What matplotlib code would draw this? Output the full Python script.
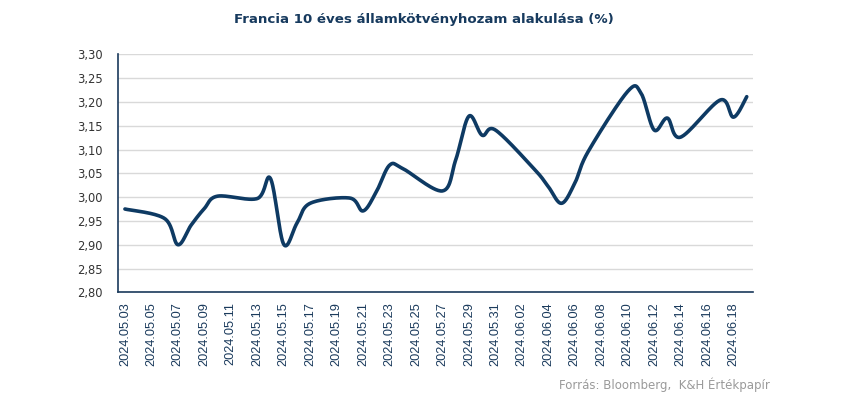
import numpy as np
import matplotlib
matplotlib.use("Agg")
import matplotlib.pyplot as plt
import datetime as dt

# ---- data ----
dates = ["2024.05.03", "2024.05.06", "2024.05.07", "2024.05.08", "2024.05.09", "2024.05.10",
         "2024.05.13", "2024.05.14", "2024.05.15", "2024.05.16", "2024.05.17",
         "2024.05.20", "2024.05.21", "2024.05.22", "2024.05.23", "2024.05.24",
         "2024.05.27", "2024.05.28", "2024.05.29", "2024.05.30", "2024.05.31",
         "2024.06.03", "2024.06.04", "2024.06.05", "2024.06.06", "2024.06.07",
         "2024.06.10", "2024.06.11", "2024.06.12", "2024.06.13", "2024.06.14",
         "2024.06.17", "2024.06.18", "2024.06.19"]
yields = [2.975, 2.955, 2.900, 2.941, 2.976, 3.002,
          2.997, 3.039, 2.901, 2.945, 2.987,
          2.998, 2.971, 3.011, 3.067, 3.060,
          3.013, 3.078, 3.170, 3.130, 3.141,
          3.057, 3.022, 2.987, 3.029, 3.095,
          3.222, 3.219, 3.141, 3.166, 3.126,
          3.204, 3.168, 3.211]
tick_labels = ["2024.05.03", "2024.05.05", "2024.05.07", "2024.05.09", "2024.05.11",
               "2024.05.13", "2024.05.15", "2024.05.17", "2024.05.19", "2024.05.21",
               "2024.05.23", "2024.05.25", "2024.05.27", "2024.05.29", "2024.05.31",
               "2024.06.02", "2024.06.04", "2024.06.06", "2024.06.08", "2024.06.10",
               "2024.06.12", "2024.06.14", "2024.06.16", "2024.06.18"]
y_ticks = [2.80, 2.85, 2.90, 2.95, 3.00, 3.05, 3.10, 3.15, 3.20, 3.25, 3.30]

start = dt.datetime.strptime(dates[0], "%Y.%m.%d")
def day_index(s):
    return (dt.datetime.strptime(s, "%Y.%m.%d") - start).days

x = np.array([day_index(d) for d in dates], dtype=float)
y = np.array(yields)

# Excel-like smoothing (Catmull-Rom bezier) for rendering only
def smooth(xs, ys, n=30):
    px, py = [], []
    N = len(xs)
    for i in range(N - 1):
        p0 = np.array([xs[max(i - 1, 0)], ys[max(i - 1, 0)]])
        p1 = np.array([xs[i], ys[i]])
        p2 = np.array([xs[i + 1], ys[i + 1]])
        p3 = np.array([xs[min(i + 2, N - 1)], ys[min(i + 2, N - 1)]])
        c1 = p1 + (p2 - p0) / 6.0
        c2 = p2 - (p3 - p1) / 6.0
        t = np.linspace(0, 1, n, endpoint=(i == N - 2))[:, None]
        pts = ((1 - t) ** 3) * p1 + 3 * ((1 - t) ** 2) * t * c1 + 3 * (1 - t) * t ** 2 * c2 + t ** 3 * p2
        px.extend(pts[:, 0]); py.extend(pts[:, 1])
    return np.array(px), np.array(py)

sx, sy = smooth(x, y)

navy = "#0e3a63"
fig = plt.figure(figsize=(8.5, 3.97), dpi=100)
ax = fig.add_axes([0.1392, 0.2637, 0.7471, 0.5995])
ax.plot(sx, sy, color=navy, lw=2.6, solid_capstyle="round", solid_joinstyle="round", zorder=3)

ax.set_xlim(-0.5, 47.5)
ax.set_ylim(2.80, 3.30)
ax.set_yticks(y_ticks)
ax.set_yticklabels([f"{v:.2f}".replace(".", ",") for v in y_ticks],
                   fontsize=8.3, color="#333333", family="DejaVu Sans")
ax.set_xticks([day_index(t) for t in tick_labels])
ax.set_xticklabels(tick_labels, rotation=90, fontsize=9.2, color="#1a3a5c", family="Liberation Sans")
ax.tick_params(axis="both", length=0)
ax.tick_params(axis="y", pad=11)
ax.tick_params(axis="x", pad=7)
ax.grid(axis="y", color="#d9d9d9", lw=1.0, zorder=0)
for s in ["top", "right"]:
    ax.spines[s].set_visible(False)
for s in ["left", "bottom"]:
    ax.spines[s].set_color("#1a3a5c")
    ax.spines[s].set_linewidth(1.2)

fig.text(0.499, 0.951, "Francia 10 éves államkötvényhozam alakulása (%)", ha="center", va="center",
         fontsize=9.6, fontweight="bold", color="#173a5e", family="DejaVu Sans")
fig.text(0.906, 0.030, "Forrás: Bloomberg,  K&H Értékpapír", ha="right", va="center",
         fontsize=8.5, color="#9a9a9a", family="DejaVu Sans")

fig.savefig("out.png", dpi=100)
